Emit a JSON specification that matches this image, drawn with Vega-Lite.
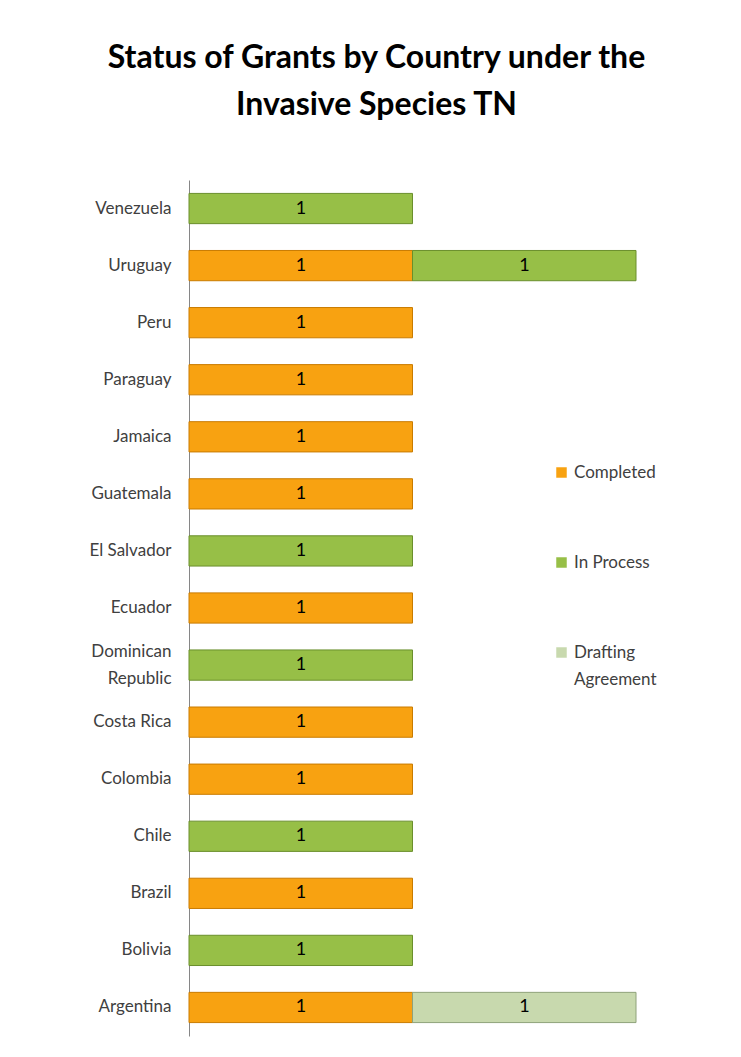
{
  "$schema": "https://vega.github.io/schema/vega-lite/v6.json",
  "autosize": {"type": "none"},
  "padding": {"left": 189, "top": 180, "right": 105, "bottom": 21},
  "width": 447,
  "height": 856,
  "background": "white",
  "title": {
    "text": ["Status of Grants by Country under the", "Invasive Species TN"],
    "font": "Lato",
    "fontSize": 32,
    "fontWeight": "bold",
    "color": "#000000",
    "lineHeight": 47,
    "anchor": "middle",
    "frame": "group",
    "dx": -36,
    "offset": 58
  },
  "data": {
    "values": [
      {"country": "Venezuela", "status": "In Process", "count": 1, "ord": 2},
      {"country": "Uruguay", "status": "Completed", "count": 1, "ord": 1},
      {"country": "Uruguay", "status": "In Process", "count": 1, "ord": 2},
      {"country": "Peru", "status": "Completed", "count": 1, "ord": 1},
      {"country": "Paraguay", "status": "Completed", "count": 1, "ord": 1},
      {"country": "Jamaica", "status": "Completed", "count": 1, "ord": 1},
      {"country": "Guatemala", "status": "Completed", "count": 1, "ord": 1},
      {"country": "El Salvador", "status": "In Process", "count": 1, "ord": 2},
      {"country": "Ecuador", "status": "Completed", "count": 1, "ord": 1},
      {"country": "Dominican Republic", "status": "In Process", "count": 1, "ord": 2},
      {"country": "Costa Rica", "status": "Completed", "count": 1, "ord": 1},
      {"country": "Colombia", "status": "Completed", "count": 1, "ord": 1},
      {"country": "Chile", "status": "In Process", "count": 1, "ord": 2},
      {"country": "Brazil", "status": "Completed", "count": 1, "ord": 1},
      {"country": "Bolivia", "status": "In Process", "count": 1, "ord": 2},
      {"country": "Argentina", "status": "Completed", "count": 1, "ord": 1},
      {"country": "Argentina", "status": "Drafting Agreement", "count": 1, "ord": 3}
    ]
  },
  "encoding": {
    "y": {
      "field": "country",
      "type": "nominal",
      "sort": "descending",
      "scale": {"paddingInner": 0.47, "paddingOuter": 0.235},
      "axis": {
        "title": null,
        "ticks": false,
        "domainColor": "#868686",
        "domainWidth": 1,
        "labelFont": "Lato",
        "labelFontSize": 17,
        "labelColor": "#404040",
        "labelPadding": 18,
        "labelLineHeight": 27,
        "labelLimit": 200,
        "labelOffset": {"condition": {"test": "datum.value == 'Dominican Republic'", "value": -13.5}, "value": 0},
        "labelExpr": "datum.value == 'Dominican Republic' ? ['Dominican', 'Republic'] : datum.value"
      }
    },
    "x": {
      "field": "count",
      "type": "quantitative",
      "stack": "zero",
      "scale": {"domain": [0, 2], "nice": false},
      "axis": null
    },
    "order": {"field": "ord", "type": "quantitative"}
  },
  "layer": [
    {
      "mark": {"type": "bar", "strokeWidth": 1},
      "encoding": {
        "color": {
          "field": "status",
          "type": "nominal",
          "scale": {
            "domain": ["Completed", "In Process", "Drafting Agreement"],
            "range": ["#F8A211", "#97BF47", "#C8D9AE"]
          },
          "legend": {
            "title": null,
            "orient": "none",
            "legendX": 364,
            "legendY": 284,
            "symbolType": "square",
            "symbolSize": 110,
            "symbolStrokeWidth": 0,
            "symbolOpacity": 1,
            "labelFont": "Lato",
            "labelFontSize": 17,
            "labelColor": "#404040",
            "labelOffset": 4,
            "rowPadding": 72,
            "labelExpr": "datum.label == 'Drafting Agreement' ? ['Drafting', 'Agreement'] : datum.label",
            "encode": {
              "labels": {"update": {"lineHeight": {"value": 27}}}
            }
          }
        },
        "stroke": {
          "field": "status",
          "type": "nominal",
          "scale": {
            "domain": ["Completed", "In Process", "Drafting Agreement"],
            "range": ["#C97B00", "#6A8F2C", "#8FA27A"]
          },
          "legend": null
        }
      }
    },
    {
      "mark": {"type": "text", "dx": -111.5, "font": "Lato", "fontSize": 18, "color": "#000000", "align": "center", "baseline": "middle"},
      "encoding": {
        "text": {"field": "count", "type": "quantitative"}
      }
    }
  ],
  "config": {
    "view": {"stroke": null}
  }
}
